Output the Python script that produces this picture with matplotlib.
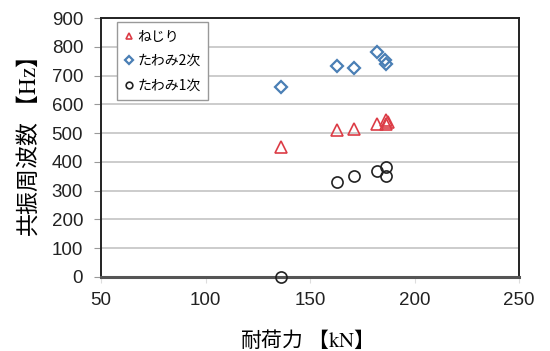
import matplotlib
matplotlib.use('Agg')
import matplotlib.pyplot as plt
import numpy as np

plt.rcParams['font.family'] = ['Liberation Sans', 'Noto Sans CJK JP', 'DejaVu Sans']
plt.rcParams['mathtext.fontset'] = 'stix'

# ねじり
neji_x = [136, 163, 171, 182, 186.5, 187, 186.5]
neji_y = [451, 510, 515, 532, 547, 540, 532]
# たわみ2次
tawami2_x = [136, 163, 171, 182, 186, 186.5]
tawami2_y = [660, 735, 727, 781, 755, 742]
# たわみ1次
tawami1_x = [136, 163, 171, 182, 186.5, 186.5]
tawami1_y = [0, 332, 352, 369, 382, 351]

fig = plt.figure(figsize=(5.5, 3.51), dpi=100)
ax = fig.add_axes([0.184, 0.211, 0.76, 0.737])

ax.plot(neji_x, neji_y, '^', mfc='none', mec='#dc3c46', ms=8, mew=1.2, label='ねじり', clip_on=False, zorder=5)
ax.plot(tawami2_x, tawami2_y, 'D', mfc='none', mec='#4a7fb5', ms=6.5, mew=1.6, label='たわみ2次', clip_on=False, zorder=5)
ax.plot(tawami1_x, tawami1_y, 'o', mfc='none', mec='#222222', ms=8, mew=1.2, label='たわみ1次', clip_on=False, zorder=5)

ax.set_xlim(50, 250)
ax.set_ylim(0, 900)
ax.set_xticks(np.arange(50, 251, 50))
ax.set_yticks(np.arange(0, 901, 100))
ax.yaxis.grid(True, color='#c4c4c4', linewidth=1.2)
ax.set_axisbelow(True)

for s in ['top', 'right', 'left']:
    ax.spines[s].set_color('#222222')
    ax.spines[s].set_linewidth(1.4)
ax.spines['bottom'].set_color('#555555')
ax.spines['bottom'].set_linewidth(2.2)

ax.tick_params(axis='y', direction='out', length=5, color='#999999', labelsize=13.5, pad=8)
ax.tick_params(axis='x', direction='out', length=4, color='#dddddd', labelsize=13.5, pad=7)
for lab in ax.get_xticklabels() + ax.get_yticklabels():
    lab.set_color('#222222')

ax.set_xlabel('耐荷力 【$\\mathrm{kN}$】', fontsize=15, labelpad=8,
              family=['Noto Sans CJK JP', 'DejaVu Sans'])
ax.xaxis.set_label_coords(0.478, -0.2)
ax.set_ylabel('共振周波数 【$\\mathrm{Hz}$】', fontsize=16.5, labelpad=8,
              family=['Noto Sans CJK JP', 'DejaVu Sans'])

leg = ax.legend(loc='upper left', bbox_to_anchor=(0.038, 0.985), borderaxespad=0,
                prop={'family': ['Noto Sans CJK JP', 'DejaVu Sans'], 'size': 10},
                markerscale=0.6, handlelength=0.6, handletextpad=0.3,
                borderpad=0.55, labelspacing=0.75, fancybox=False,
                edgecolor='#999999', framealpha=1)
leg.get_frame().set_linewidth(1.0)

fig.savefig('out.png', dpi=100)
